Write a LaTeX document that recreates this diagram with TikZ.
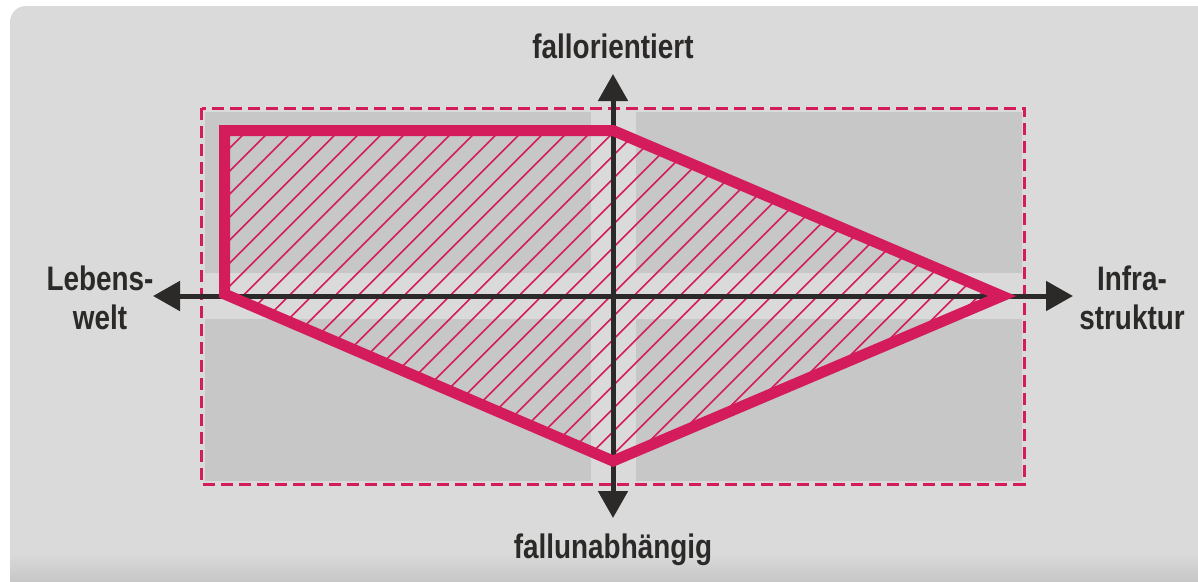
\documentclass[tikz,border=0pt]{standalone}
\usepackage{fontspec}
\setmainfont[FakeStretch=0.82]{Liberation Sans}
\usetikzlibrary{arrows.meta}
\definecolor{bggray}{HTML}{D9DAD9}
\definecolor{quadgray}{HTML}{C6C7C6}
\definecolor{pinkred}{HTML}{D41B5B}
\definecolor{axisdark}{HTML}{2B2A28}
\tikzset{
  quad/.style={fill=quadgray, draw=none},
  frame/.style={draw=pinkred, line width=3pt, dash pattern=on 12pt off 6pt},
  axis/.style={draw=axisdark, line width=5pt, {Triangle[length=27pt,width=29pt]}-{Triangle[length=27pt,width=29pt]}},
  hatch/.style={draw=pinkred, line width=1.6pt},
  outline/.style={draw=pinkred, line width=11pt, line join=miter},
  lbl/.style={font=\bfseries\fontsize{34}{39}\selectfont, text=axisdark, inner sep=0pt, align=center}
}
\begin{document}
\begin{tikzpicture}[x=1pt, y=-1pt]
\useasboundingbox (0,0) rectangle (1198,581);
% background panel
\fill[bggray, rounded corners=16pt] (10,6) rectangle (1240,640);
\shade[top color=bggray, bottom color=quadgray] (10,553) rectangle (1198,581);
% quadrants
\fill[quad] (205,112) rectangle (591,273);
\fill[quad] (636,112) rectangle (1022,273);
\fill[quad] (205,319) rectangle (591,481);
\fill[quad] (636,319) rectangle (1022,481);
% dashed frame
\draw[frame] (201.7,108) rectangle (1024.3,484.3);
% polygon corners
\coordinate (p1) at (224.5,130.5);
\coordinate (p2) at (613,130.5);
\coordinate (p3) at (1002,296);
\coordinate (p4) at (613,461);
\coordinate (p5) at (224.5,294);
% hatching
\begin{scope}
  \clip (p1) -- (p2) -- (p3) -- (p4) -- (p5) -- cycle;
  \foreach \c in {354.7,377.7,...,1320}
    \draw[hatch] (\c-80,80) -- (\c-520,520);
\end{scope}
% axes
\coordinate (L) at (153,296);
\coordinate (R) at (1073,296);
\coordinate (T) at (613,74);
\coordinate (B) at (613,518);
\draw[axis] (L) -- (R);
\draw[axis] (B) -- (T);
% outline
\draw[outline] (p1) -- (p2) -- (p3) -- (p4) -- (p5) -- cycle;
% labels
\node[lbl, anchor=base] (top) at (613,58) {fallorientiert};
\node[lbl, anchor=base] (bot) at (613,558) {fallunabhängig};
\node[lbl] (left) at (100,298) {Lebens-\\welt};
\node[lbl] (right) at (1132,298) {Infra-\\struktur};
\end{tikzpicture}
\end{document}
